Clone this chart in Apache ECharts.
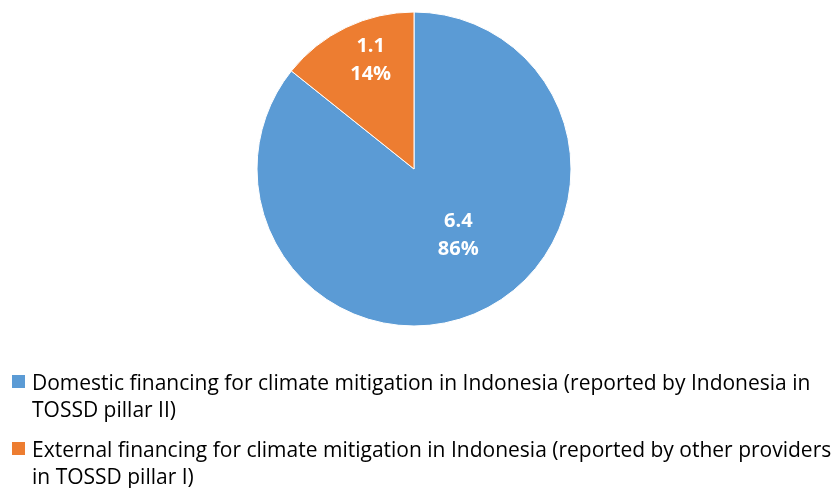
<!DOCTYPE html>
<html>
<head>
<meta charset="utf-8">
<script src="https://cdn.jsdelivr.net/npm/echarts@6/dist/echarts.min.js"></script>
<style>
  html, body { margin: 0; padding: 0; background: #fff; }
  #chart { width: 832px; height: 488px; }
</style>
</head>
<body>
<div id="chart"></div>
<script>
// Climate mitigation financing in Indonesia, USD billion
const categories = [
  'Domestic financing for climate mitigation in Indonesia (reported by Indonesia in\nTOSSD pillar II)',
  'External financing for climate mitigation in Indonesia (reported by other providers\nin TOSSD pillar I)'
];
const values = [6.43, 1.07];
const colors = ['#5B9BD5', '#ED7D31'];
// label nudges relative to the default inside position
const labelShift = [[9, -7], [-8, -35]];

const FONT = '"Open Sans", sans-serif';

const chart = echarts.init(document.getElementById('chart'), null, { renderer: 'canvas' });

// hand-built legend: square swatch plus wrapped text
const legendItems = [];
categories.forEach((name, i) => {
  const top = 370 + i * 67;
  legendItems.push({
    type: 'rect',
    shape: { x: 12, y: top + 5, width: 13, height: 13 },
    style: { fill: colors[i] }
  });
  legendItems.push({
    type: 'text',
    x: 32,
    y: top,
    style: {
      text: name,
      fill: '#000',
      font: '21px ' + FONT,
      lineHeight: 27.5,
      textVerticalAlign: 'top'
    }
  });
});

chart.setOption({
  backgroundColor: '#fff',
  animation: false,
  color: colors,
  graphic: legendItems,
  series: [{
    type: 'pie',
    center: [414, 169],
    radius: [0, 157],
    startAngle: 90,
    clockwise: true,
    itemStyle: { borderColor: '#fff', borderWidth: 1 },
    label: {
      show: true,
      position: 'inside',
      color: '#fff',
      fontFamily: FONT,
      fontWeight: 'bold',
      fontSize: 20,
      lineHeight: 28,
      formatter: p => p.value.toFixed(1) + '\n' + Math.round(p.percent) + '%'
    },
    labelLayout: p => ({ dx: labelShift[p.dataIndex][0], dy: labelShift[p.dataIndex][1] }),
    labelLine: { show: false },
    emphasis: { disabled: true },
    data: categories.map((name, i) => ({ name: name, value: values[i] }))
  }]
});
</script>
</body>
</html>
